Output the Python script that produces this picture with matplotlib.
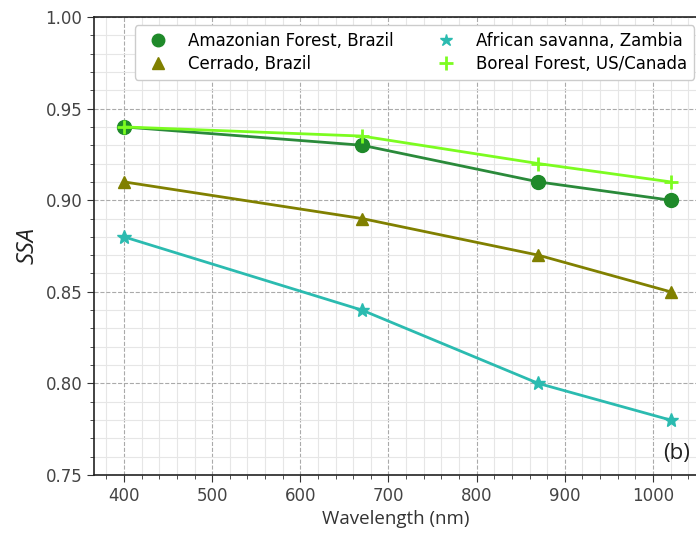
import matplotlib.pyplot as plt
from matplotlib.lines import Line2D
from matplotlib.ticker import MultipleLocator

# Data
wavelength = [400, 670, 870, 1020]
amazonian = [0.94, 0.93, 0.91, 0.90]
cerrado = [0.91, 0.89, 0.87, 0.85]
african = [0.88, 0.84, 0.80, 0.78]
boreal = [0.94, 0.935, 0.92, 0.91]

names = ['Amazonian Forest, Brazil', 'Cerrado, Brazil',
         'African savanna, Zambia', 'Boreal Forest, US/Canada']
colors = ['#1f8a2a', '#808000', '#2bbbb0', '#7cfc20']
line_colors = ['#2a8a3a', '#808000', '#2bbbb0', '#7cfc20']
markers = ['o', '^', '*', '+']

fig = plt.figure(figsize=(6.96, 5.38), dpi=100)
# axes runs slightly past the right edge, as in the reference crop
ax = fig.add_axes([94 / 696, 63 / 538, 603 / 696, 458 / 538])

series = [amazonian, cerrado, african, boreal]
for vals, c, lc, m in zip(series, colors, line_colors, markers):
    ax.plot(wavelength, vals, color=lc, lw=2, marker=m, ms=10 if m != '^' else 9,
            mfc=c, mec=c, mew=2 if m == '+' else 1)

ax.set_xlim(366, 1050)
ax.set_ylim(0.75, 1.00)
ax.xaxis.set_major_locator(MultipleLocator(100))
ax.xaxis.set_minor_locator(MultipleLocator(20))
ax.yaxis.set_major_locator(MultipleLocator(0.05))
ax.yaxis.set_minor_locator(MultipleLocator(0.01))
ax.yaxis.set_major_formatter(plt.FormatStrFormatter('%.2f'))

ax.grid(which='major', color='#aaaaaa', linestyle='--', linewidth=0.8)
ax.grid(which='minor', color='#e6e6e6', linestyle='-', linewidth=0.8)
ax.set_axisbelow(True)

ax.tick_params(which='major', labelsize=12, length=5, colors='#333333', labelcolor='#444444')
ax.tick_params(which='minor', length=3, colors='#333333')
for s in ax.spines.values():
    s.set_linewidth(1.2)
    s.set_color('#222222')

ax.set_xlabel('Wavelength (nm)', fontsize=13.5, family='Open Sans', color='#333333')
ax.set_ylabel('SSA', fontsize=17, style='italic', family='Open Sans', color='#222222')

ax.text(0.944, 0.025, '(b)', transform=ax.transAxes, fontsize=16, family='Open Sans',
        color='#222222', va='bottom')

# legend shows markers only
handles = [Line2D([], [], linestyle='none', marker=m, color=c, ms=9 if m != '+' else 10,
                  mew=2 if m == '+' else 1)
           for c, m in zip(colors, markers)]
ax.legend(handles, names, ncol=2, loc='upper left', bbox_to_anchor=(0.068, 0.982),
          borderaxespad=0, fontsize=12, columnspacing=2.2, handletextpad=0.82,
          handlelength=1.95, framealpha=1, borderpad=0.4, labelspacing=0.3)

plt.savefig('out.png', dpi=100)
